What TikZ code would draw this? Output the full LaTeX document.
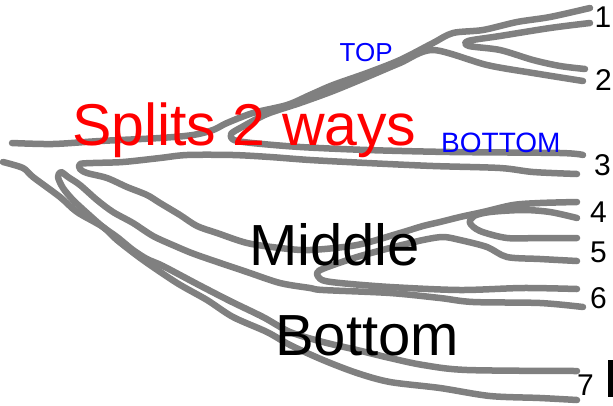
\documentclass[tikz,border=0pt]{standalone}
\usepackage{fontspec}
\setmainfont{Liberation Sans}
\definecolor{strokegray}{RGB}{128,128,128}
\definecolor{labred}{RGB}{255,0,0}
\definecolor{labblue}{RGB}{0,0,255}
\tikzset{
  stroke/.style={draw=strokegray, line width=6.5pt, line cap=round, line join=round},
  bigtext/.style={inner sep=0pt, anchor=base west, font=\fontsize{58}{58}\selectfont},
  smalltext/.style={inner sep=0pt, anchor=base west, text=labblue},
  numlabel/.style={inner sep=0pt, anchor=base, font=\fontsize{30}{30}\selectfont},
}
\begin{document}
\begin{tikzpicture}[x=1pt, y=-1pt]
\useasboundingbox (0,0) rectangle (613,405);

% TOP branch: trunk to 1 (upper)
\draw[stroke] plot[smooth, tension=0.5] coordinates {(12,143) (53,144) (100,141) (160,138) (193,135) (213,130) (227,123) (253,113) (287,105) (310,95) (333,85) (367,73) (400,60) (433,43) (453,33) (483,30) (517,22) (550,17) (590,8)};
% hook: 3 upper <-> 2 lower
\draw[stroke] plot[smooth, tension=0.5] coordinates {(583,155) (560,153) (450,152) (367,150) (300,147) (252,143) (234,140) (231,134) (242,127) (267,114) (300,103) (333,91) (367,77) (400,63) (433,50) (487,65) (533,73) (583,81)};
% hook: 1 lower <-> 2 upper
\draw[stroke] plot[smooth, tension=0.5] coordinates {(590,23) (550,28) (500,36) (468,41) (469,46) (500,50) (533,60) (560,66) (585,69)};

% hook: 3 lower <-> Middle -> 4 upper
\draw[stroke] plot[smooth, tension=0.5] coordinates {(577,174) (533,172) (500,168) (433,166) (367,163) (310,160) (270,157) (233,155) (187,155) (160,158) (123,162) (93,163) (80,164) (80,169) (87,173) (107,178) (127,187) (147,195) (160,203) (180,215) (197,226) (217,233) (247,243) (280,248) (310,250) (357,245) (400,233) (423,226) (440,222) (460,217) (483,212) (513,205) (540,203) (577,202)};
% hook: 4 lower <-> 5 upper
\draw[stroke] plot[smooth, tension=0.5] coordinates {(577,218) (550,212) (523,210) (490,212) (474,216) (470,223) (480,231) (507,238) (540,238) (577,238)};
% hook: 5 lower <-> 6 upper
\draw[stroke] plot[smooth, tension=0.5] coordinates {(577,261) (540,259) (507,257) (487,247) (460,240) (443,237) (423,240) (390,248) (357,257) (325,268) (317,273) (322,280) (340,283) (390,287) (460,290) (523,288) (577,289)};

% hook: 7 upper <-> 6 lower
\draw[stroke] plot[smooth, tension=0.5] coordinates {(577,371) (467,370) (423,365) (390,358) (357,350) (323,342) (290,332) (263,317) (230,301) (197,284) (163,266) (147,259) (133,250) (117,237) (103,227) (87,213) (73,200) (63,188) (58,177) (61,172) (68,177) (80,185) (97,200) (113,212) (133,223) (153,236) (175,246) (197,255) (247,272) (280,283) (310,288) (323,290) (390,293) (440,298) (473,302) (540,303) (583,307)};
% bottom-most stroke to 7 lower
\draw[stroke] plot[smooth, tension=0.5] coordinates {(3,162) (23,168) (33,177) (60,197) (77,212) (103,227) (117,240) (143,260) (177,283) (207,300) (233,317) (267,332) (290,345) (323,360) (357,373) (390,382) (440,388) (490,396) (540,398) (577,400)};

% texts
\node[bigtext, text=labred, font=\fontsize{59}{59}\selectfont] (splits) at (72,145) {Splits 2 ways};
\node[smalltext, font=\fontsize{26}{26}\selectfont] (top) at (339.5,61) {TOP};
\node[smalltext, font=\fontsize{28}{28}\selectfont] (bottomsmall) at (441,152) {BOTTOM};
\node[bigtext] (middle) at (249,265) {Middle};
\node[bigtext] (bottom) at (275,355) {Bottom};

\node[numlabel] (n1) at (603,27) {1};
\node[numlabel] (n2) at (603.5,90) {2};
\node[numlabel] (n3) at (602.5,175) {3};
\node[numlabel] (n4) at (598.5,222) {4};
\node[numlabel] (n5) at (598.5,262) {5};
\node[numlabel] (n6) at (598.5,308) {6};
\node[numlabel] (n7) at (585.5,395) {7};

\fill[black] (608,360) rectangle (612.5,397);
\end{tikzpicture}
\end{document}
